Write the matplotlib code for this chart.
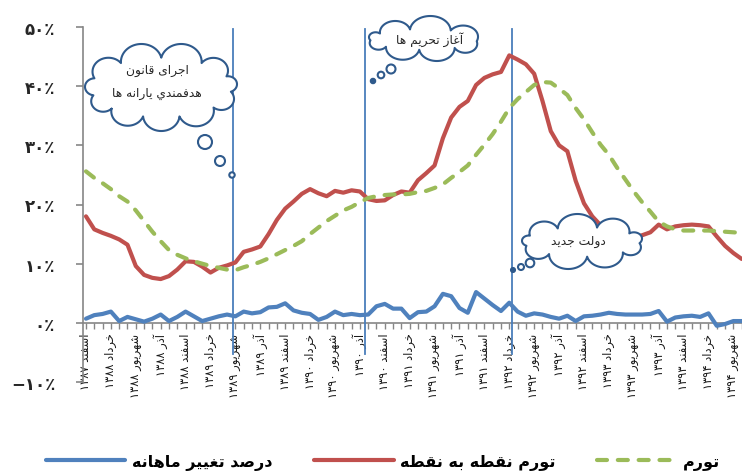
import re
import numpy as np
import matplotlib
matplotlib.use('Agg')
import matplotlib.pyplot as plt
from matplotlib.patches import Circle, Polygon
from matplotlib.lines import Line2D

plt.rcParams['font.family'] = ['DejaVu Sans']

# ---------------- data ----------------
tick_labels = ['اسفند ۱۳۸۷', 'خرداد ۱۳۸۸', 'شهریور ۱۳۸۸', 'آذر ۱۳۸۸', 'اسفند ۱۳۸۸',
               'خرداد ۱۳۸۹', 'شهریور ۱۳۸۹', 'آذر ۱۳۸۹', 'اسفند ۱۳۸۹', 'خرداد ۱۳۹۰',
               'شهریور ۱۳۹۰', 'آذر ۱۳۹۰', 'اسفند ۱۳۹۰', 'خرداد ۱۳۹۱', 'شهریور ۱۳۹۱',
               'آذر ۱۳۹۱', 'اسفند ۱۳۹۱', 'خرداد ۱۳۹۲', 'شهریور ۱۳۹۲', 'آذر ۱۳۹۲',
               'اسفند ۱۳۹۲', 'خرداد ۱۳۹۳', 'شهریور ۱۳۹۳', 'آذر ۱۳۹۳', 'اسفند ۱۳۹۳',
               'خرداد ۱۳۹۴', 'شهریور ۱۳۹۴']

point_to_point = [18.0, 15.8, 15.2, 14.7, 14.1, 13.2, 9.6, 8.1, 7.6, 7.4,
                  7.9, 9.0, 10.4, 10.3, 9.5, 8.5, 9.3, 9.7, 10.2, 12.0,
                  12.4, 12.9, 15.0, 17.4, 19.3, 20.5, 21.8, 22.6, 21.9, 21.4,
                  22.3, 22.0, 22.4, 22.2, 20.9, 20.6, 20.7, 21.6, 22.2, 22.0,
                  24.1, 25.3, 26.6, 31.2, 34.7, 36.5, 37.5, 40.2, 41.4, 42.0,
                  42.4, 45.2, 44.5, 43.7, 42.1, 37.5, 32.4, 30.0, 29.0, 24.0,
                  20.2, 18.0, 16.5, 15.3, 14.6, 14.2, 14.4, 14.8, 15.3, 16.6,
                  15.8, 16.3, 16.5, 16.6, 16.5, 16.3, 14.6, 13.0, 11.8, 10.8]

inflation = [25.6, 24.5, 23.6, 22.6, 21.4, 20.5, 19.0, 17.2, 15.4, 13.8,
             12.3, 11.5, 10.9, 10.4, 10.0, 9.6, 9.3, 9.0, 8.9, 9.4,
             9.8, 10.3, 10.9, 11.6, 12.3, 13.0, 13.8, 15.0, 16.1, 17.2,
             18.1, 19.0, 19.6, 20.4, 21.1, 21.4, 21.6, 21.7, 21.7, 21.8,
             22.1, 22.3, 22.8, 23.4, 24.5, 25.5, 26.6, 28.4, 30.1, 31.9,
             34.0, 36.3, 37.8, 39.0, 40.2, 40.7, 40.6, 39.6, 38.5, 36.3,
             34.4, 32.2, 30.1, 28.4, 26.2, 24.2, 22.2, 20.4, 18.8, 17.1,
             16.3, 15.8, 15.6, 15.6, 15.6, 15.6, 15.5, 15.4, 15.3, 15.2]

monthly_change = [0.7, 1.3, 1.5, 1.9, 0.3, 1.0, 0.6, 0.2, 0.7, 1.4,
                  0.3, 1.0, 1.9, 1.1, 0.3, 0.7, 1.1, 1.4, 1.1, 1.9,
                  1.6, 1.8, 2.6, 2.7, 3.3, 2.1, 1.7, 1.5, 0.5, 1.0,
                  1.9, 1.3, 1.5, 1.3, 1.4, 2.8, 3.2, 2.4, 2.4, 0.8,
                  1.8, 1.9, 2.8, 4.9, 4.5, 2.5, 1.7, 5.2, 4.1, 3.0,
                  2.0, 3.4, 1.9, 1.2, 1.6, 1.4, 1.0, 0.7, 1.2, 0.3,
                  1.1, 1.2, 1.4, 1.7, 1.5, 1.4, 1.4, 1.4, 1.5, 2.0,
                  0.2, 0.9, 1.1, 1.2, 1.0, 1.6, -0.5, -0.2, 0.3, 0.3]

series_names = ['درصد تغییر ماهانه', 'تورم نقطه به نقطه', 'تورم']
y_ticks = [-10, 0, 10, 20, 30, 40, 50]
y_tick_labels = ['−۱۰٪', '۰٪', '۱۰٪', '۲۰٪', '۳۰٪', '۴۰٪', '۵۰٪']
event_positions = [17.7, 33.6, 51.3]

# ---------------- simple Persian shaping ----------------
_F = {
    'ا': (0xFE8D, 0xFE8E, None, None), 'آ': (0xFE81, 0xFE82, None, None),
    'ب': (0xFE8F, 0xFE90, 0xFE91, 0xFE92), 'پ': (0xFB56, 0xFB57, 0xFB58, 0xFB59),
    'ت': (0xFE95, 0xFE96, 0xFE97, 0xFE98), 'ث': (0xFE99, 0xFE9A, 0xFE9B, 0xFE9C),
    'ج': (0xFE9D, 0xFE9E, 0xFE9F, 0xFEA0), 'چ': (0xFB7A, 0xFB7B, 0xFB7C, 0xFB7D),
    'ح': (0xFEA1, 0xFEA2, 0xFEA3, 0xFEA4), 'خ': (0xFEA5, 0xFEA6, 0xFEA7, 0xFEA8),
    'د': (0xFEA9, 0xFEAA, None, None), 'ذ': (0xFEAB, 0xFEAC, None, None),
    'ر': (0xFEAD, 0xFEAE, None, None), 'ز': (0xFEAF, 0xFEB0, None, None),
    'ژ': (0xFB8A, 0xFB8B, None, None),
    'س': (0xFEB1, 0xFEB2, 0xFEB3, 0xFEB4), 'ش': (0xFEB5, 0xFEB6, 0xFEB7, 0xFEB8),
    'ص': (0xFEB9, 0xFEBA, 0xFEBB, 0xFEBC), 'ض': (0xFEBD, 0xFEBE, 0xFEBF, 0xFEC0),
    'ط': (0xFEC1, 0xFEC2, 0xFEC3, 0xFEC4), 'ظ': (0xFEC5, 0xFEC6, 0xFEC7, 0xFEC8),
    'ع': (0xFEC9, 0xFECA, 0xFECB, 0xFECC), 'غ': (0xFECD, 0xFECE, 0xFECF, 0xFED0),
    'ف': (0xFED1, 0xFED2, 0xFED3, 0xFED4), 'ق': (0xFED5, 0xFED6, 0xFED7, 0xFED8),
    'ک': (0xFB8E, 0xFB8F, 0xFB90, 0xFB91), 'گ': (0xFB92, 0xFB93, 0xFB94, 0xFB95),
    'ل': (0xFEDD, 0xFEDE, 0xFEDF, 0xFEE0), 'م': (0xFEE1, 0xFEE2, 0xFEE3, 0xFEE4),
    'ن': (0xFEE5, 0xFEE6, 0xFEE7, 0xFEE8), 'ه': (0xFEE9, 0xFEEA, 0xFEEB, 0xFEEC),
    'و': (0xFEED, 0xFEEE, None, None),
    'ی': (0xFBFC, 0xFBFD, 0xFBFE, 0xFBFF), 'ي': (0xFEF1, 0xFEF2, 0xFEF3, 0xFEF4),
}
_NUM = r'[0-9۰-۹٪%\.−\-]+'


def fa(text):
    lines = []
    for line in text.split('\n'):
        out = []
        for i, c in enumerate(line):
            if c not in _F:
                out.append(c)
                continue
            prev = line[i - 1] if i > 0 else None
            nxt = line[i + 1] if i + 1 < len(line) else None
            jp = prev in _F and _F[prev][2] is not None
            jn = _F[c][2] is not None and nxt in _F
            f = _F[c]
            code = f[3] if (jp and jn) else f[1] if jp else f[2] if jn else f[0]
            out.append(chr(code))
        s = ''.join(out)
        toks = re.findall(_NUM + '|' + r'[^0-9۰-۹٪%\.−\-]+', s)[::-1]
        toks = [t if re.fullmatch(_NUM, t) else t[::-1] for t in toks]
        lines.append(''.join(toks))
    return '\n'.join(lines)


# ---------------- figure ----------------
W, H = 742, 477
fig = plt.figure(figsize=(W / 100, H / 100), dpi=100)
ax = fig.add_axes([83 / W, (H - 383) / H, (W - 83) / W, (383 - 28) / H])

x = np.arange(len(point_to_point))
BLUE, RED, GREEN = '#4F81BD', '#C0504D', '#9BBB59'
AXC = '#868686'

for xp in event_positions:
    ax.plot([xp, xp], [-5.2, 49.7], color='#4A7EBB', lw=1.3, zorder=2, clip_on=False)

ax.plot(x, monthly_change, color=BLUE, lw=3.0, solid_joinstyle='round', solid_capstyle='round', zorder=3)
ax.plot(x, point_to_point, color=RED, lw=3.0, solid_joinstyle='round', solid_capstyle='round', zorder=4)
ax.plot(x, inflation, color=GREEN, lw=3.0, dashes=(2.4, 2.6), dash_capstyle='round', zorder=5)

ax.set_ylim(-10, 50)
ax.set_xlim(-0.36, 79.04)
for s in ['top', 'right']:
    ax.spines[s].set_visible(False)
ax.spines['left'].set_color(AXC)
ax.spines['left'].set_linewidth(1.2)
ax.spines['bottom'].set_position(('data', 0))
ax.spines['bottom'].set_color(AXC)
ax.spines['bottom'].set_linewidth(1.2)
ax.spines['bottom'].set_zorder(1)

ax.set_yticks(y_ticks)
ax.set_yticklabels(y_tick_labels, fontsize=12, fontweight='bold', color='#262626')
ax.tick_params(axis='y', direction='out', length=5, width=1.2, color=AXC, pad=15)

ax.set_xticks(np.arange(0, len(x), 3))
ax.set_xticklabels([fa(t) for t in tick_labels], rotation=90, fontsize=8.3, color='#1a1a1a')
ax.set_xticks(np.arange(0, len(x)), minor=True)
ax.tick_params(axis='x', which='both', direction='out', length=4, width=1.0, color=AXC, pad=3)

# legend
handles = [Line2D([], [], color=BLUE, lw=3.0, solid_capstyle='round'),
           Line2D([], [], color=RED, lw=3.0, solid_capstyle='round'),
           Line2D([], [], color=GREEN, lw=3.0, dashes=(2.4, 2.6), dash_capstyle='round')]
leg = fig.legend(handles, [fa(n) for n in series_names], ncol=3, loc='center',
                 bbox_to_anchor=(383 / W, (H - 463) / H), frameon=False,
                 prop={'size': 11.5, 'weight': 'bold'}, handlelength=5.0,
                 handletextpad=0.4, columnspacing=2.6)

# ---------------- thought clouds (pixel overlay) ----------------
ov = fig.add_axes([0, 0, 1, 1])
ov.set_xlim(0, W)
ov.set_ylim(H, 0)
ov.axis('off')
ov.patch.set_alpha(0)
CC = '#2F5A8C'
LW = 1.5


def cloud(x0, x1, y0, y1, angles, text, fs, tx, ty, phi_deg=85):
    a, b = (x1 - x0) / 2, (y1 - y0) / 2
    n = len(angles)
    hest = 0.5 * np.pi * (a + b) / n
    ab, bb = a - 0.75 * hest, max(b - 0.75 * hest, 0.45 * b)
    t = np.deg2rad(angles)
    pts = np.column_stack([ab * np.cos(t), bb * np.sin(t)])
    phi = np.deg2rad(phi_deg)
    poly = []
    for i in range(n):
        A, B = pts[i], pts[(i + 1) % n]
        M = (A + B) / 2
        d = B - A
        h = np.hypot(*d) / 2
        nr = np.array([d[1], -d[0]]) / (2 * h)
        if np.dot(nr, M) < 0:
            nr = -nr
        R = h / np.sin(phi)
        C = M - nr * R * np.cos(phi)
        al = np.arctan2(nr[1], nr[0])
        ts = al + phi * np.linspace(1, -1, 40)
        P = C + R * np.column_stack([np.cos(ts), np.sin(ts)])
        if np.hypot(*(P[0] - A)) > np.hypot(*(P[-1] - A)):
            P = P[::-1]
        poly.append(P)
    poly = np.vstack(poly)
    mn, mx = poly.min(axis=0), poly.max(axis=0)
    poly[:, 0] = x0 + (poly[:, 0] - mn[0]) / (mx[0] - mn[0]) * (x1 - x0)
    poly[:, 1] = y0 + (poly[:, 1] - mn[1]) / (mx[1] - mn[1]) * (y1 - y0)
    ov.add_patch(Polygon(poly, closed=True, fc='white', ec=CC, lw=LW, zorder=10,
                         joinstyle='round'))
    ov.text(tx, ty, fa(text), ha='center', va='center', fontsize=fs, color='#262626',
            zorder=12, linespacing=1.9)


def bubble(px, py, r, filled=False):
    ov.add_patch(Circle((px, py), r, fc=CC if filled else 'white', ec=CC, lw=LW, zorder=10))


cloud(85, 237, 45, 132, [8, 42, 75, 105, 135, 165, 198, 235, 270, 305, 338],
      'اجرای قانون\nهدفمندي یارانه ها', 8.8, 157, 82)
bubble(205, 143, 7)
bubble(220, 162, 5)
bubble(232, 176, 2.7)

cloud(369, 478, 17, 62, [10, 55, 95, 135, 175, 215, 255, 300],
      'آغاز تحریم ها', 8.8, 430, 40)
bubble(391, 70, 4.5)
bubble(381, 76, 3.3)
bubble(373, 82, 2.2, filled=True)

cloud(522, 642, 215, 270, [5, 45, 85, 125, 165, 205, 245, 285, 325],
      'دولت جدید', 8.8, 578, 242)
bubble(530, 264, 4.3)
bubble(521, 268, 3.0)
bubble(513, 271, 2.0, filled=True)

fig.savefig('out.png', dpi=100)
